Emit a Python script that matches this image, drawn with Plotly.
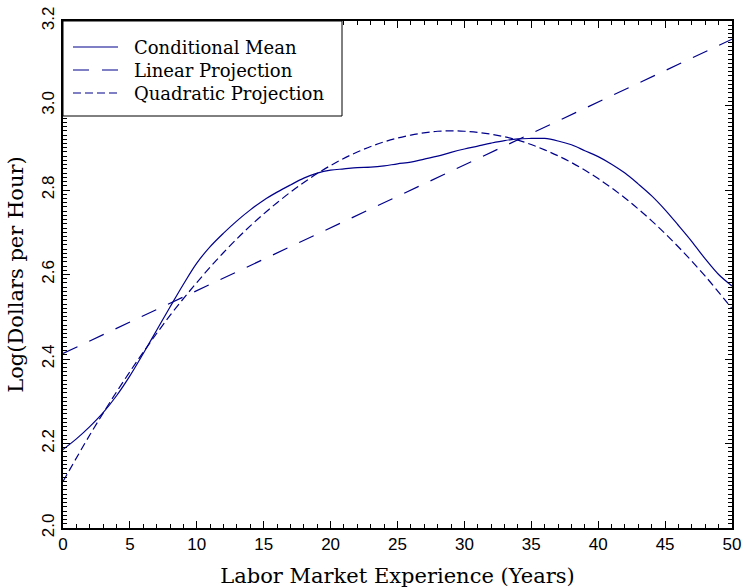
import plotly.graph_objects as go

# ---- data ----
exp_years = list(range(0, 51))
cond_mean = [2.186, 2.211, 2.240, 2.273, 2.313, 2.360, 2.413, 2.468, 2.523, 2.577,
             2.627, 2.666, 2.698, 2.727, 2.753, 2.776, 2.795, 2.812, 2.828, 2.840,
             2.847, 2.850, 2.853, 2.854, 2.857, 2.862, 2.866, 2.873, 2.880, 2.889,
             2.897, 2.904, 2.911, 2.917, 2.921, 2.922, 2.922, 2.916, 2.907, 2.893,
             2.879, 2.861, 2.840, 2.814, 2.786, 2.753, 2.716, 2.678, 2.637, 2.600,
             2.573]

lin_x = [0, 50]
lin_proj = [2.413, 3.157]

quad_x = [0, 2, 4, 6, 8, 10, 12, 14, 16, 18, 20, 22, 24, 26, 28, 30, 32, 34, 36,
          38, 40, 42, 44, 46, 48, 50]
quad_proj = [2.110, 2.220, 2.322, 2.416, 2.503, 2.581, 2.652, 2.715, 2.770, 2.818,
             2.858, 2.890, 2.914, 2.930, 2.939, 2.939, 2.932, 2.918, 2.895, 2.865,
             2.827, 2.781, 2.727, 2.665, 2.596, 2.519]

series_names = ["Conditional Mean", "Linear Projection", "Quadratic Projection"]

# ---- styling ----
NAVY = "#00008B"
SERIF = "DejaVu Serif"
SANS = "Liberation Sans"
DASH_LIN = "16px,13px"
DASH_QUAD = "8px,4px"

fig = go.Figure()
fig.add_trace(go.Scatter(x=exp_years, y=cond_mean, mode="lines", name=series_names[0],
                         line=dict(color=NAVY, width=1.2, shape="spline")))
fig.add_trace(go.Scatter(x=lin_x, y=lin_proj, mode="lines", name=series_names[1],
                         line=dict(color=NAVY, width=1.2, dash=DASH_LIN)))
fig.add_trace(go.Scatter(x=quad_x, y=quad_proj, mode="lines", name=series_names[2],
                         line=dict(color=NAVY, width=1.2, dash=DASH_QUAD, shape="spline")))

# ---- manual legend box (matches reference look) ----
W, H = 669.0, 507.0
def px_x(p):
    return p / W
def px_y(p):
    return 1 - p / H

fig.add_shape(type="rect", xref="paper", yref="paper",
              x0=0, x1=px_x(279), y0=px_y(95), y1=1,
              line=dict(color="black", width=1), fillcolor="white", layer="above")
rows = [26, 49, 72]
dashes = ["solid", DASH_LIN, DASH_QUAD]
for name, r, d in zip(series_names, rows, dashes):
    fig.add_shape(type="line", xref="paper", yref="paper",
                  x0=px_x(10), x1=px_x(55), y0=px_y(r), y1=px_y(r),
                  line=dict(color=NAVY, width=1.2, dash=d), layer="above")
    fig.add_annotation(xref="paper", yref="paper", x=px_x(69), y=px_y(r),
                       xanchor="left", yanchor="middle", text=name, showarrow=False,
                       font=dict(family=SERIF, size=18, color="black"))

axis_common = dict(
    showgrid=False, zeroline=False, showline=True, linecolor="black", linewidth=2,
    mirror="ticks", ticks="inside", ticklen=7, tickwidth=1, tickcolor="black",
    tickfont=dict(family=SANS, size=17, color="black"), automargin=False,
    tickmode="linear",
)

fig.update_xaxes(range=[0, 50], tick0=0, dtick=5,
                 minor=dict(ticks="inside", ticklen=4, dtick=1, tickcolor="black"),
                 ticklabelstandoff=0,
                 title=dict(text="Labor Market Experience (Years)",
                            font=dict(family=SERIF, size=21, color="black"), standoff=16),
                 **axis_common)
fig.update_yaxes(range=[2.0, 3.2], tick0=2.0, dtick=0.2, tickformat=".1f",
                 tickangle=-90,
                 minor=dict(ticks="inside", ticklen=4, dtick=0.01, tickcolor="black"),
                 title=dict(text="Log(Dollars per Hour)",
                            font=dict(family=SERIF, size=21, color="black"), standoff=10),
                 **axis_common)

fig.update_layout(
    width=743, height=588,
    margin=dict(l=63, r=11, t=21, b=60),
    paper_bgcolor="white", plot_bgcolor="white",
    showlegend=False,
    font=dict(family=SERIF, color="black"),
)

fig.write_html("out.html")
